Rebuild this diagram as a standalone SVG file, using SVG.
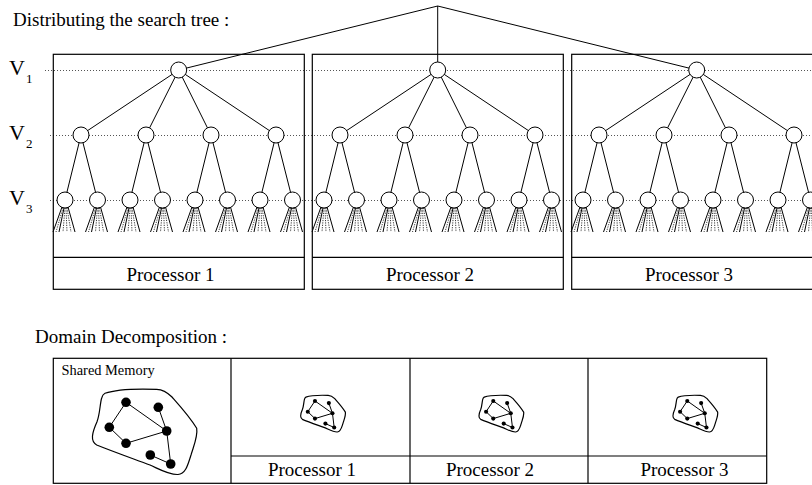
<svg xmlns="http://www.w3.org/2000/svg" xmlns:xlink="http://www.w3.org/1999/xlink" width="812" height="485" viewBox="0 0 812 485">
<style>
text{font-family:"Liberation Serif","Times New Roman",serif;fill:#000}
.t{font-family:"Liberation Serif","Times New Roman",serif;font-size:19px}
.v{font-family:"Liberation Serif","Times New Roman",serif;font-size:22px}
.sub{font-size:13px}
.box{fill:none;stroke:#000;stroke-width:1.2}
.guide{fill:none;stroke:#555;stroke-width:1;stroke-dasharray:1 2}
.edge{fill:none;stroke:#000;stroke-width:1}
.node{fill:#fff;stroke:#000;stroke-width:1}
.fs{fill:none;stroke:#000;stroke-width:1}
.fd{fill:none;stroke:#222;stroke-width:0.9;stroke-dasharray:1.2 1.2}
.blob{fill:none;stroke:#000;stroke-width:1.2}
</style>
<defs>
<g id="fan">
<path class="fs" d="M-3,207L-12,232M-1,208L-6,232M3,207L10,232"/>
<path class="fd" d="M-2,208L-9,232M0,208L-2,232M1,208L2,232M2,208L6,232"/>
</g>
<g id="treeEdges">
<path class="edge" d="M178.7,70L81,135M178.7,70L146,135M178.7,70L211,135M178.7,70L276,135M81,135L65,200M81,135L97.5,200M146,135L130,200M146,135L162.5,200M211,135L195,200M211,135L227.5,200M276,135L260,200M276,135L292.5,200"/>
</g>
<g id="treeNodes">
<circle class="node" cx="178.7" cy="70" r="8"/>
<circle class="node" cx="81" cy="135" r="8"/>
<circle class="node" cx="146" cy="135" r="8"/>
<circle class="node" cx="211" cy="135" r="8"/>
<circle class="node" cx="276" cy="135" r="8"/>
<circle class="node" cx="65" cy="200" r="8"/>
<circle class="node" cx="97.5" cy="200" r="8"/>
<circle class="node" cx="130" cy="200" r="8"/>
<circle class="node" cx="162.5" cy="200" r="8"/>
<circle class="node" cx="195" cy="200" r="8"/>
<circle class="node" cx="227.5" cy="200" r="8"/>
<circle class="node" cx="260" cy="200" r="8"/>
<circle class="node" cx="292.5" cy="200" r="8"/>
</g>
<g id="treeFans">
<use xlink:href="#fan" transform="translate(65,0)"/>
<use xlink:href="#fan" transform="translate(97.5,0)"/>
<use xlink:href="#fan" transform="translate(130,0)"/>
<use xlink:href="#fan" transform="translate(162.5,0)"/>
<use xlink:href="#fan" transform="translate(195,0)"/>
<use xlink:href="#fan" transform="translate(227.5,0)"/>
<use xlink:href="#fan" transform="translate(260,0)"/>
<use xlink:href="#fan" transform="translate(292.5,0)"/>
</g>
<g id="graph">
<path class="blob" vector-effect="non-scaling-stroke" d="M-39,-37.7C-30,-41 -10,-42.5 12.7,-41.7C20,-41.5 24,-38 28,-34C36,-25 46,-14 52.7,-2.7C54,5 50,14 47,24C44,33 42,43 34,43.5C25,44 15,38 6,34C-10,28 -30,21 -47.3,14C-54,10 -52,2 -47,-9.3C-44,-17 -44,-28 -42.3,-33C-41.5,-36 -40.5,-37 -39,-37.7Z"/>
<path class="edge" vector-effect="non-scaling-stroke" d="M-18,-28.7L-34.7,-3.7L-18,12.3L22.7,0L-18,-28.7M14.3,-23.7L22.7,0L26.7,33L6.3,24"/>
<g fill="#000">
<circle cx="-18" cy="-28.7" r="4.8"/>
<circle cx="14.3" cy="-23.7" r="4.8"/>
<circle cx="-34.7" cy="-3.7" r="4.8"/>
<circle cx="22.7" cy="0" r="4.8"/>
<circle cx="-18" cy="12.3" r="4.8"/>
<circle cx="6.3" cy="24" r="4.8"/>
<circle cx="26.7" cy="33" r="4.8"/>
</g>
</g>
</defs>

<text class="t" x="13" y="26">Distributing the search tree :</text>

<g id="levels">
<text class="v" x="9" y="75">V<tspan class="sub" dx="1" dy="8">1</tspan></text>
<text class="v" x="9" y="140">V<tspan class="sub" dx="1" dy="8">2</tspan></text>
<text class="v" x="9" y="205">V<tspan class="sub" dx="1" dy="8">3</tspan></text>
<path class="guide" d="M45,70.5H812M50,135.5H812M50,200.5H812"/>
</g>

<g id="connectors">
<path class="edge" d="M437.7,6L178.7,70M437.7,6L437.7,70M437.7,6L696.7,70"/>
</g>

<g id="processor-1-tree">
<rect class="box" x="53.3" y="54.3" width="251" height="235"/>
<line class="box" x1="53.3" y1="257.3" x2="304.3" y2="257.3"/>
<use xlink:href="#treeEdges"/>
<use xlink:href="#treeNodes"/>
<use xlink:href="#treeFans"/>
<text class="t" x="170.5" y="281" text-anchor="middle">Processor 1</text>
</g>

<g id="processor-2-tree">
<rect class="box" x="312.3" y="54.3" width="251" height="235"/>
<line class="box" x1="312.3" y1="257.3" x2="563.3" y2="257.3"/>
<g transform="translate(259,0)">
<use xlink:href="#treeEdges"/>
<use xlink:href="#treeNodes"/>
<use xlink:href="#treeFans"/>
</g>
<text class="t" x="430" y="281" text-anchor="middle">Processor 2</text>
</g>

<g id="processor-3-tree">
<rect class="box" x="571.7" y="54.3" width="251" height="235"/>
<line class="box" x1="571.7" y1="257.3" x2="822.7" y2="257.3"/>
<g transform="translate(518,0)">
<use xlink:href="#treeEdges"/>
<use xlink:href="#treeNodes"/>
<use xlink:href="#treeFans"/>
</g>
<text class="t" x="689" y="281" text-anchor="middle">Processor 3</text>
</g>

<text class="t" x="35" y="343">Domain Decomposition :</text>

<g id="shared-memory">
<rect class="box" x="53.3" y="358.3" width="713.4" height="125"/>
<line class="box" x1="231" y1="358.3" x2="231" y2="483.3"/>
<text x="61.5" y="375" style="font-size:14.4px">Shared Memory</text>
<use xlink:href="#graph" transform="translate(144,431)"/>
</g>

<g id="domain-processor-1">
<line class="box" x1="410" y1="358.3" x2="410" y2="483.3"/>
<line class="box" x1="231" y1="456" x2="766.7" y2="456"/>
<use xlink:href="#graph" transform="translate(322.7,413.3) scale(0.43)"/>
<text class="t" x="312" y="476" text-anchor="middle">Processor 1</text>
</g>

<g id="domain-processor-2">
<line class="box" x1="588" y1="358.3" x2="588" y2="483.3"/>
<use xlink:href="#graph" transform="translate(501,413.3) scale(0.43)"/>
<text class="t" x="490" y="476" text-anchor="middle">Processor 2</text>
</g>

<g id="domain-processor-3">
<use xlink:href="#graph" transform="translate(695,413.3) scale(0.43)"/>
<text class="t" x="684.5" y="476" text-anchor="middle">Processor 3</text>
</g>
</svg>
